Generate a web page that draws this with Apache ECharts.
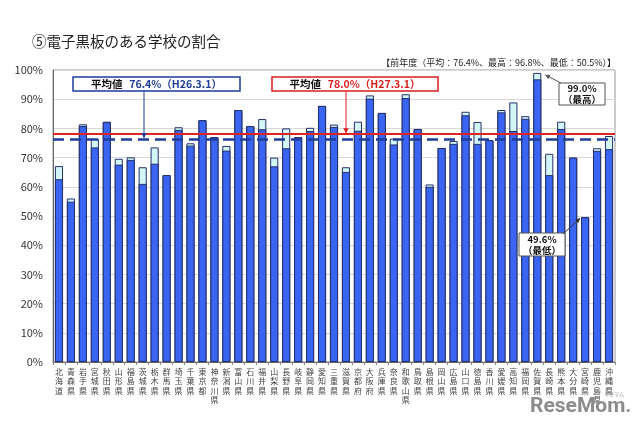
<!DOCTYPE html>
<html><head><meta charset="utf-8">
<script src="https://cdn.jsdelivr.net/npm/echarts@6/dist/echarts.min.js"></script>
<style>html,body{margin:0;padding:0;background:#fff}#c{width:640px;height:427px}</style>
</head><body><div id="c"></div>
<script>
const prefectures = ['北海道','青森県','岩手県','宮城県','秋田県','山形県','福島県','茨城県','栃木県','群馬県','埼玉県','千葉県','東京都','神奈川県','新潟県','富山県','石川県','福井県','山梨県','長野県','岐阜県','静岡県','愛知県','三重県','滋賀県','京都府','大阪府','兵庫県','奈良県','和歌山県','鳥取県','島根県','岡山県','広島県','山口県','徳島県','香川県','愛媛県','高知県','福岡県','佐賀県','長崎県','熊本県','大分県','宮崎県','鹿児島県','沖縄県'];
const blueValues = [62.6,54.9,80.8,73.5,82.1,67.6,69.2,61.0,67.9,64.0,79.5,74.1,82.8,77.0,72.4,86.3,80.8,79.7,67.0,73.2,77.0,79.1,87.7,80.5,65.1,79.2,90.2,85.3,74.5,90.4,79.8,60.0,73.3,74.7,84.5,74.7,76.0,85.5,79.1,83.3,96.8,64.0,79.8,70.0,49.6,72.3,72.9];
const paleValues = [67.1,56.0,81.4,76.4,82.3,69.6,70.1,66.7,73.5,64.0,80.4,74.9,82.8,77.0,74.0,86.3,80.8,83.2,70.0,80.0,77.0,80.2,87.7,81.3,66.7,82.3,91.3,85.3,76.5,91.7,79.8,60.8,73.3,75.7,85.7,82.2,76.0,86.3,88.9,84.2,99.0,71.3,82.3,70.0,49.6,73.2,77.4];
const avgPrev = 76.4;   // H26.3.1
const avgCur = 78.0;    // H27.3.1
const maxIndex = 40, maxLabel = '99.0%';
const minIndex = 44, minLabel = '49.6%';
const yMin = 0, yMax = 100, yStep = 10;

const FONT = '"Noto Sans CJK JP", "Noto Sans", sans-serif';
const chart = echarts.init(document.getElementById('c'), null, {renderer: 'canvas'});

const option = {
  animation: false,
  backgroundColor: '#fff',
  textStyle: {fontFamily: FONT},
  title: [
    {text: '⑤電子黒板のある学校の割合', left: 27, top: 29,
     textStyle: {fontSize: 14.5, fontWeight: 'normal', color: '#222', fontFamily: FONT}},
    {text: '【前年度（平均：76.4%、最高：96.8%、最低：50.5%）】', right: 19, top: 53,
     textStyle: {fontSize: 9, fontWeight: 'normal', color: '#222', fontFamily: FONT}}
  ],
  grid: {left: 53, right: 25, top: 70, bottom: 65, show: true, borderColor: '#999', borderWidth: 1},
  xAxis: {
    type: 'category', data: prefectures,
    axisLine: {lineStyle: {color: '#666'}},
    axisTick: {show: true, length: 3, lineStyle: {color: '#888'}},
    axisLabel: {interval: 0, margin: 5, fontSize: 8, lineHeight: 9.5, color: '#444', fontFamily: FONT,
      formatter: v => v.split('').join('\n'), verticalAlign: 'top'}
  },
  yAxis: {
    type: 'value', min: yMin, max: yMax, interval: yStep,
    axisLine: {show: true, lineStyle: {color: '#666'}},
    axisTick: {show: false},
    splitLine: {lineStyle: {color: '#d9d9d9'}},
    axisLabel: {formatter: '{value}%', fontSize: 11, color: '#333', margin: 10, fontFamily: FONT}
  },
  series: [
    {type: 'bar', name: 'pale', data: paleValues, barWidth: '68%',
     itemStyle: {color: '#d2f6f6', borderColor: '#25306a', borderWidth: 1}, z: 2, silent: true},
    {type: 'bar', name: 'blue', data: blueValues, barWidth: '68%', barGap: '-100%',
     itemStyle: {color: '#3a64f2', borderColor: '#25306a', borderWidth: 1}, z: 3, silent: true,
     markLine: {silent: true, symbol: 'none', label: {show: false},
       data: [
         {yAxis: avgPrev, lineStyle: {color: '#1f3d99', width: 2.5, type: [11, 6]}},
         {yAxis: avgCur, lineStyle: {color: '#e02424', width: 2, type: 'solid'}}
       ]}}
  ]
};
chart.setOption(option);

function arrow(x1, y1, x2, y2, color, size) {
  const ang = Math.atan2(y2 - y1, x2 - x1);
  const s = size || 5;
  const p1 = [x2 - s * Math.cos(ang) + s * 0.55 * Math.sin(ang), y2 - s * Math.sin(ang) - s * 0.55 * Math.cos(ang)];
  const p2 = [x2 - s * Math.cos(ang) - s * 0.55 * Math.sin(ang), y2 - s * Math.sin(ang) + s * 0.55 * Math.cos(ang)];
  return [
    {type: 'line', shape: {x1, y1, x2, y2}, style: {stroke: color, lineWidth: 1}, z: 10},
    {type: 'polygon', shape: {points: [[x2, y2], p1, p2]}, style: {fill: color}, z: 10}
  ];
}

const yPrev = chart.convertToPixel({gridIndex: 0}, [0, avgPrev])[1];
const yCur = chart.convertToPixel({gridIndex: 0}, [0, avgCur])[1];
const pMax = chart.convertToPixel({gridIndex: 0}, [maxIndex, paleValues[maxIndex]]);
const pMin = chart.convertToPixel({gridIndex: 0}, [minIndex, blueValues[minIndex]]);
const bw = (562 / prefectures.length) * 0.68 / 2;

const rich = {
  k: {fontSize: 10.5, fontWeight: 'bold', fill: '#111', fontFamily: FONT},
  b: {fontSize: 10.5, fontWeight: 'bold', fill: '#1f3d99', fontFamily: FONT},
  r: {fontSize: 10.5, fontWeight: 'bold', fill: '#d91e1e', fontFamily: FONT}
};

let g = [];
// blue average label
g.push({type: 'rect', shape: {x: 73, y: 77, width: 167, height: 14}, style: {fill: '#fff', stroke: '#1f3d99', lineWidth: 1.5}, z: 9});
g.push({type: 'text', x: 156.5, y: 84, style: {text: '{k|平均値}  {b|76.4%（H26.3.1）}', rich, align: 'center', verticalAlign: 'middle'}, z: 11});
g = g.concat(arrow(144, 91, 144, yPrev - 1, '#1f3d99', 5));
// red average label
g.push({type: 'rect', shape: {x: 272, y: 77, width: 166, height: 14}, style: {fill: '#fff', stroke: '#d91e1e', lineWidth: 1.5}, z: 9});
g.push({type: 'text', x: 355, y: 84, style: {text: '{k|平均値}  {r|78.0%（H27.3.1）}', rich, align: 'center', verticalAlign: 'middle'}, z: 11});
g = g.concat(arrow(346, 91, 346, yCur - 1, '#d91e1e', 5));
// max annotation
g.push({type: 'rect', shape: {x: 559, y: 83, width: 46, height: 22}, style: {fill: '#fff', stroke: '#555', lineWidth: 1}, z: 9});
g.push({type: 'text', x: 582, y: 94, style: {text: maxLabel + '\n（最高）', fontSize: 9.5, fontWeight: 'bold', fill: '#111', align: 'center', verticalAlign: 'middle', lineHeight: 11, fontFamily: FONT}, z: 11});
g = g.concat(arrow(561, 83, pMax[0] + bw + 4, pMax[1] + 2, '#555', 4.5));
// min annotation
g.push({type: 'rect', shape: {x: 519, y: 233, width: 46, height: 23}, style: {fill: '#fff', stroke: '#555', lineWidth: 1}, z: 9});
g.push({type: 'text', x: 542, y: 244.5, style: {text: minLabel + '\n（最低）', fontSize: 9.5, fontWeight: 'bold', fill: '#111', align: 'center', verticalAlign: 'middle', lineHeight: 11, fontFamily: FONT}, z: 11});
g = g.concat(arrow(563, 234, pMin[0] - bw - 1, pMin[1] + 1, '#333', 4.5));
// watermark
g.push({type: 'text', x: 530, y: 396, style: {text: 'ReseMom.', fontSize: 21, fontWeight: 'bold', fill: '#8c8c8c', fontFamily: 'Roboto, "Liberation Sans", sans-serif'}, z: 12});
g.push({type: 'text', x: 604, y: 392, style: {text: 'リセマム', fontSize: 5, fill: '#8c8c8c', fontFamily: FONT}, z: 12});

chart.setOption({graphic: g});
</script>
</body></html>
